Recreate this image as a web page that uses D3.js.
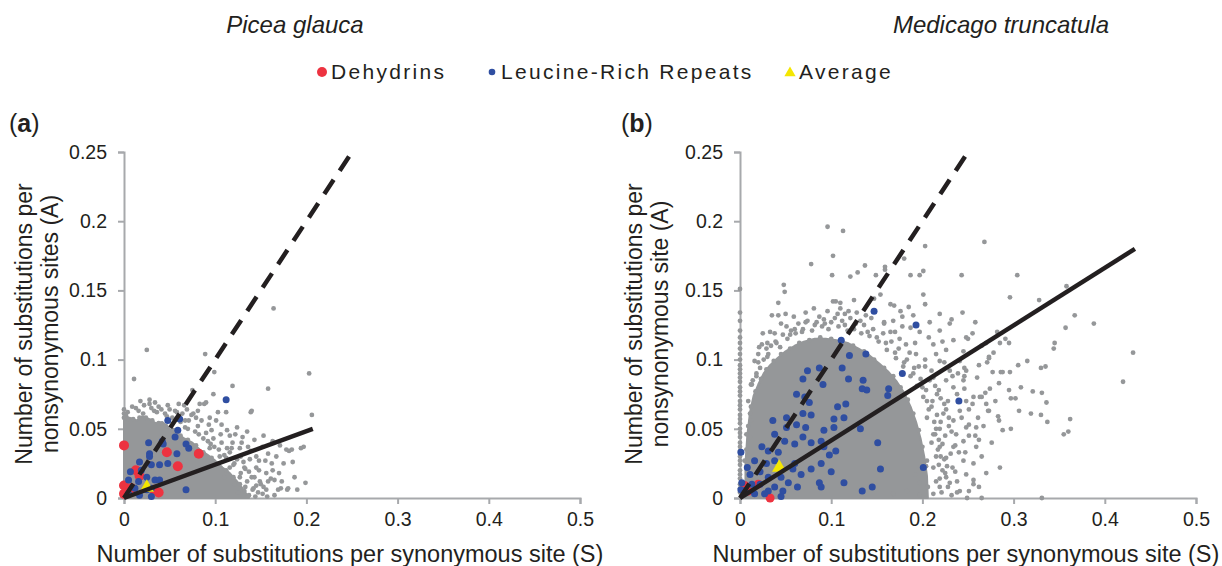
<!DOCTYPE html>
<meta charset="utf-8">
<style>body{margin:0;background:#fff}</style>
<script src="https://d3js.org/d3.v7.min.js"></script>
<div id="my_dataviz"></div>
<script>

// ---- values ----
var xTicks = [0, 0.1, 0.2, 0.3, 0.4, 0.5];
var yTicks = [0, 0.05, 0.1, 0.15, 0.2, 0.25];
var legendKeys = ["Dehydrins", "Leucine-Rich Repeats", "Average"];
var neutralLine = [[0, 0], [0.25, 0.25]];   // A = S

// (a) Picea glauca
// outline of the solid grey cloud
var coreA = [[0,0],[0,0.056],[0.006,0.058],[0.014,0.056],[0.02,0.059],[0.028,0.057],[0.035,0.054],[0.042,0.055],[0.05,0.05],
  [0.058,0.047],[0.066,0.043],[0.075,0.04],[0.083,0.035],[0.092,0.031],[0.1,0.027],[0.108,0.022],[0.116,0.018],[0.124,0.012],
  [0.13,0.007],[0.134,0.003],[0.137,0]];
var grayA = [[0.025,0.107],[0.011,0.086],[0.089,0.104],[0.099,0.091],[0.203,0.090],[0.164,0.137],[0.158,0.079],[0.119,0.081],
  [0.075,0.078],[0.098,0.075],[0.139,0.062],[0.206,0.060],[0.112,0.062],[0.083,0.068],[0.090,0.069],[0.067,0.056],[0.028,0.071],
  [0.013,0.065],[0.021,0.061],[0.038,0.066],[0.048,0.067],[0.060,0.068],[0.076,0.061],[0.101,0.056],[0.122,0.046],[0.130,0.044],
  [0.143,0.042],[0.152,0.037],[0.178,0.035],[0.184,0.035],[0.194,0.036],[0.197,0.037],[0.185,0.026],[0.199,0.011],[0.165,0.013],
  [0.172,0.007],[0.179,0.006],[0.165,0.002],[0.141,0.006],[0.152,0.003],[0.116,0.022],[0.127,0.015],[0.156,0.018],[0.145,0.022],
  [0.167,0.030],[0.163,0.020],[0.028,0.068],[0.066,0.067],[0.088,0.068],[0.140,0.063],[0.181,0.034],[0.148,0.020],[0.161,0.014],
  [0.180,0.007],[0.169,0.006],[0.121,0.010],[0.116,0.045],[0.129,0.040],[0.136,0.037],[0.119,0.040],[0.107,0.053],[0.096,0.049],
  [0.085,0.056],[0.074,0.060],[0.099,0.037],[0.110,0.031],[0.121,0.025],[0.132,0.022],[0.143,0.015],[0.150,0.010],[0.156,0.006],
  [0.110,0.015],[0.133,0.008],[0.128,0.030],[0.113,0.036],[0.092,0.041],[0.105,0.030],[0.138,0.028],[0.125,0.004],[0.145,0.030],
  [0.155,0.027],[0.058,0.062],[0.045,0.061],[0.033,0.063],[0.07,0.05],[0.082,0.046],[0.094,0.036],
  [0.004,0.062],[0.009,0.066],[0.016,0.063],[0.022,0.067],[0.03,0.065],[0.036,0.062],[0.041,0.064],[0.047,0.059],[0.053,0.058],
  [0.056,0.063],[0.062,0.055],[0.067,0.051],[0.071,0.056],[0.078,0.048],[0.081,0.052],[0.087,0.043],[0.09,0.047],[0.095,0.039],
  [0.098,0.043],[0.104,0.035],[0.107,0.04],[0.112,0.029],[0.116,0.033],[0.12,0.024],[0.124,0.028],[0.128,0.018],[0.133,0.021],
  [0.135,0.012],[0.14,0.015],[0.142,0.007],[0.147,0.004],[0.144,0.001],[0.118,0.036],[0.106,0.046],[0.093,0.053],[0.079,0.058],
  [0.064,0.061],[0.05,0.064],[0.034,0.069],[0.018,0.07],[0.131,0.026],[0.137,0.019],[0.149,0.012],[0.153,0.008],
  [0.003,0.058],[0.01,0.057],[0.017,0.058],[0.024,0.058],[0.031,0.056],[0.038,0.054],[0.046,0.052],[0.054,0.049],[0.062,0.045],
  [0.07,0.042],[0.079,0.038],[0.087,0.033],[0.096,0.029],[0.104,0.025],[0.112,0.02],[0.12,0.015],[0.127,0.01],[0.132,0.005],
  [0.136,0.001],[0.145,0.009],[0.158,0.012],[0.162,0.025],[0.17,0.018],[0.175,0.025],[0.187,0.015],[0.19,0.006],[0.173,0.012],
  [0.158,0.032],[0.148,0.027],[0.139,0.034],[0.127,0.036],[0.171,0.038],[0.163,0.041],[0.153,0.045],[0.135,0.048],[0.124,0.051],
  [0.113,0.049],[0.103,0.062],[0.094,0.058],[0.081,0.063],[0.069,0.064],[0.137,0.002],[0.157,0.001],
  [0,0.064],[0,0.058],[0,0.061],[0.002,0.06],[0.004,0.057]];
var dehydrinsA = [[0,0.038],[0.082,0.032],[0.059,0.023],[0.047,0.033],[0,0.009],[0,0.003],[0.013,0.020],[0.017,0.016],
  [0.038,0.004],[0.008,0.007],[0.033,0.006]];
var lrrA = [[0.112,0.071],[0.048,0.056],[0.061,0.057],[0.059,0.049],[0.056,0.044],[0.042,0.041],[0.027,0.040],[0.071,0.036],
  [0.043,0.039],[0.058,0.032],[0.048,0.025],[0.068,0.039],[0.068,0.006],[0.028,0.032],[0.017,0.026],[0.007,0.019],[0.019,0.020],
  [0.030,0.024],[0.039,0.024],[0.005,0.013],[0.016,0.012],[0.025,0.015],[0.034,0.013],[0.039,0.013],[0.012,0.007],[0.025,0.006],
  [0.030,0.007],[0.005,0.003],[0.017,0.002],[0.028,0.030],[0.03,0.001]];
var averageA = [[0.025, 0.0075]];
var fitA = [[0, 0], [0.207, 0.05]];

// (b) Medicago truncatula
var coreB = [[0.006,0],[0.006,0.025],[0.008,0.045],[0.011,0.062],[0.015,0.074],[0.02,0.082],[0.026,0.09],[0.033,0.096],
  [0.041,0.101],[0.05,0.106],[0.06,0.11],[0.07,0.113],[0.082,0.115],[0.094,0.115],[0.106,0.114],[0.118,0.112],[0.13,0.108],
  [0.142,0.103],[0.153,0.097],[0.163,0.091],[0.172,0.084],[0.18,0.076],[0.187,0.066],[0.193,0.055],[0.198,0.043],[0.202,0.03],
  [0.205,0.016],[0.206,0]];
var grayB = [[0.096,0.196],[0.113,0.193],[0.102,0.175],[0.078,0.169],[0.203,0.182],[0.268,0.185],[0.180,0.173],[0.201,0.164],
  [0.159,0.165],[0.137,0.168],[0.101,0.161],[0.048,0.154],[0.049,0.149],[0.042,0.141],
  [0.243,0.161],[0.304,0.161],[0.296,0.145],[0.328,0.143],[0.358,0.153],[0.244,0.134],[0.258,0.127],[0.367,0.132],[0.388,0.126],
  [0.357,0.123],[0.255,0.119],[0.282,0.120],[0.291,0.115],[0.285,0.112],[0.295,0.112],[0.273,0.102],[0.271,0.098],[0.262,0.096],
  [0.305,0.096],[0.315,0.099],[0.345,0.112],[0.344,0.108],[0.330,0.094],[0.335,0.095],[0.431,0.105],[0.420,0.084],[0.288,0.091],
  [0.296,0.091],[0.295,0.078],[0.308,0.080],[0.302,0.072],[0.321,0.077],[0.331,0.076],[0.336,0.069],[0.306,0.063],[0.319,0.061],
  [0.330,0.060],[0.337,0.055],[0.362,0.057],[0.355,0.046],[0.360,0.048],[0.297,0.050],[0.288,0.049],[0.283,0.059],[0.284,0.056],
  [0.273,0.063],[0.274,0.079],[0.269,0.076],[0.263,0.073],[0.256,0.073],[0.285,0.022],[0.331,0],[0.265,0],[0.249,0],[0.251,0.005],
  [0.256,0.010],[0.256,0.013],[0.259,0.037],[0.247,0.033],[0.256,0.025],[0.251,0.045],[0.258,0.045],[0.250,0.115],[0.245,0.106],
  [0.246,0.094],[0.246,0.088],[0.246,0.079],[0.265,0.073],[0.255,0.068],[0.270,0.068],[0.261,0.058],[0.251,0.053],[0.259,0.051],
  [0.272,0.063],
  [0.121,0.160],[0.129,0.163],[0.149,0.161],[0.159,0.167],[0.187,0.161],[0.197,0.161],[0.102,0.142],[0.110,0.141],[0.119,0.135],
  [0.147,0.144],[0.154,0.147],[0.165,0.140],[0.176,0.135],[0.185,0.138],[0.201,0.147],[0.203,0.140],[0.219,0.133],[0.232,0.129],
  [0.208,0.127],[0.190,0.132],[0.042,0.132],[0.045,0.126],[0.033,0.120],[0.024,0.111],[0.029,0.108],[0.016,0.099],[0.012,0.082],
  [0.009,0.070],[0.011,0.061],[0.007,0.046],[0.005,0.027],[0.072,0.127],[0.082,0.125],[0.092,0.129],[0.107,0.133],[0.132,0.128],
  [0.158,0.126],[0.219,0.121],[0.234,0.114],[0.248,0.116],[0.226,0.107],[0.241,0.099],[0.248,0.092],[0.230,0.092],[0.219,0.099],
  [0.212,0.111],[0.245,0.085],[0.234,0.080],[0.248,0.070],[0.241,0.063],[0.234,0.056],[0.248,0.051],[0.245,0.041],[0.234,0.037],
  [0.226,0.029],[0.245,0.027],[0.248,0.017],[0.226,0.015],[0.219,0.008],[0.241,0.005],[0.212,0.003],[0.197,0.002],[0.183,0.005],
  [0.168,0.003],[0.212,0.022],[0.219,0.037],[0.212,0.046],[0.223,0.061],[0.216,0.075],[0.208,0.085],[0.205,0.058],[0.205,0.027],
  [0.192,0.017],[0.197,0.011],
  [0.035,0.132],[0.050,0.133],[0.025,0.119],[0.021,0.109],[0.014,0.085],[0.012,0.056],[0.011,0.044],[0.105,0.142],[0.115,0.133],
  [0.125,0.143],[0.169,0.139],[0.230,0.126],[0.270,0.112],[0.273,0.101],[0.277,0.091],[0.284,0.083],[0.286,0.091],[0.297,0.072],
  [0.06,0.122],[0.068,0.12],[0.09,0.124],[0.1,0.127],[0.115,0.125],[0.125,0.122],[0.14,0.12],[0.15,0.116],[0.16,0.112],[0.17,0.105],
  [0.18,0.098],[0.19,0.09],[0.2,0.08],[0.205,0.07],[0.21,0.066],[0.215,0.05],[0.218,0.042],[0.22,0.03],[0.222,0.02],[0.215,0.012],
  [0.205,0.008],[0.04,0.112],[0.03,0.102],[0.022,0.094],[0.018,0.088],[0.186,0.105],[0.196,0.095],[0.175,0.115],[0.165,0.12],
  [0.225,0.045],[0.228,0.07],[0.226,0.085],[0.203,0.1],[0.192,0.112],[0.178,0.124],[0.138,0.132],[0.055,0.118],
  [0.013,0.082],[0.018,0.09],[0.02,0.098],[0.026,0.1],[0.031,0.104],[0.034,0.11],[0.039,0.113],[0.044,0.109],[0.047,0.118],
  [0.052,0.115],[0.056,0.121],[0.061,0.119],[0.064,0.126],[0.069,0.122],[0.074,0.128],[0.079,0.121],[0.084,0.127],[0.087,0.131],
  [0.093,0.126],[0.097,0.122],[0.104,0.13],[0.108,0.124],[0.112,0.128],[0.118,0.121],[0.121,0.13],[0.127,0.126],[0.133,0.119],
  [0.136,0.125],[0.142,0.117],[0.146,0.122],[0.152,0.113],[0.157,0.119],[0.161,0.107],[0.166,0.113],[0.171,0.101],[0.174,0.108],
  [0.179,0.095],[0.183,0.1],[0.187,0.088],[0.191,0.094],[0.194,0.081],[0.198,0.086],[0.201,0.073],[0.204,0.078],[0.207,0.064],
  [0.211,0.07],[0.213,0.055],[0.216,0.06],[0.214,0.046],[0.219,0.05],[0.217,0.035],[0.222,0.039],[0.218,0.024],[0.224,0.028],
  [0.219,0.014],[0.225,0.018],[0.221,0.004],[0.228,0.008],
  [0.02,0.104],[0.03,0.112],[0.038,0.119],[0.051,0.124],[0.059,0.131],[0.072,0.134],[0.081,0.137],[0.096,0.135],[0.11,0.137],
  [0.128,0.134],[0.144,0.13],[0.158,0.127],[0.17,0.12],[0.182,0.111],[0.193,0.104],[0.203,0.095],[0.212,0.087],[0.218,0.078],
  [0.224,0.068],[0.229,0.058],[0.232,0.048],[0.236,0.038],[0.233,0.022],[0.238,0.012],[0.232,0.002],
  [0.007,0.035],[0.009,0.052],[0.012,0.066],[0.017,0.077],[0.023,0.086],[0.029,0.093],[0.037,0.099],[0.045,0.104],[0.055,0.108],
  [0.065,0.112],[0.076,0.114],[0.088,0.116],[0.1,0.115],[0.112,0.113],[0.124,0.11],[0.136,0.106],[0.147,0.1],[0.158,0.094],
  [0.168,0.088],[0.176,0.08],[0.184,0.071],[0.19,0.061],[0.196,0.049],[0.2,0.037],[0.204,0.023],[0.206,0.008],
  [0.21,0.092],[0.214,0.081],[0.22,0.072],[0.226,0.064],[0.229,0.052],[0.237,0.046],[0.24,0.033],[0.231,0.032],[0.227,0.023],
  [0.236,0.019],[0.23,0.011],[0.238,0.004],[0.243,0.058],[0.238,0.075],[0.233,0.088],[0.224,0.098],[0.215,0.104],[0.207,0.116],
  [0.197,0.12],[0.187,0.123],[0.178,0.131],[0.168,0.128],[0.22,0.055],[0.215,0.03],[0.21,0.04],[0.239,0.09],[0.222,0.113],
  [0.251,0.064],[0.262,0.042],[0.267,0.052],[0.265,0.03],[0.27,0.018],[0.262,0.008],[0.276,0.04],[0.28,0.07],[0.278,0.105],
  [0.26,0.087],[0.265,0.11],
  [0,0.151],[0,0.134],[0,0.128],[0,0.121],[0,0.116],[0,0.112],[0,0.108],[0,0.104],[0,0.1],[0,0.096],[0,0.093],[0,0.09],[0,0.087],
  [0,0.084],[0,0.08],[0,0.077],[0,0.074],[0,0.07],[0,0.067],[0,0.064],[0,0.06],[0,0.057],[0,0.054],[0,0.05],[0,0.047],[0,0.044],
  [0,0.04],[0,0.037],[0,0.034],[0,0.03],[0,0.027],[0,0.024],[0,0.02],[0,0.017],[0,0.014],[0,0.01],[0,0.007],[0,0.004]];
var dehydrinsB = [[0.009,0.005],[0.020,0.010],[0.033,0.0],[0.005,0.009]];
var lrrB = [[0.147,0.135],[0.193,0.125],[0.178,0.090],[0.240,0.070],[0.201,0.022],[0.154,0.021],[0.134,0.005],[0.145,0.008],
  [0.111,0.114],[0.120,0.103],[0.138,0.104],[0.112,0.094],[0.119,0.086],[0.135,0.085],[0.139,0.078],[0.134,0.079],[0.163,0.079],
  [0.162,0.074],[0.087,0.094],[0.074,0.092],[0.069,0.086],[0.091,0.082],[0.062,0.075],[0.071,0.073],[0.076,0.069],[0.078,0.060],
  [0.069,0.061],[0.103,0.057],[0.107,0.066],[0.116,0.068],[0.114,0.058],[0.103,0.051],[0.092,0.049],[0.089,0.041],[0.072,0.051],
  [0.062,0.053],[0.051,0.051],[0.036,0.056],[0.051,0.058],[0.038,0.046],[0.049,0.041],[0.060,0.039],[0.069,0.044],[0.078,0.040],
  [0.092,0.037],[0.105,0.034],[0.098,0.031],[0.132,0.050],[0.151,0.040],[0.100,0.019],[0.089,0.025],[0.078,0.021],[0.114,0.011],
  [0.087,0.011],[0.089,0.008],[0.063,0.008],[0.058,0.021],[0.067,0.017],[0.053,0.011],[0.047,0.005],[0.001,0.033],[0.016,0.027],
  [0.029,0.025],[0.024,0.037],[0.031,0.034],[0.042,0.033],[0.038,0.027],[0.031,0.015],[0.022,0.019],[0.011,0.017],[0.002,0.011],
  [0.005,0.005],[0.016,0.003],[0.031,0.005],[0.038,0.008],[0.045,0.015],[0.060,0.025],[0.027,0.003],[0.013,0.010],[0.022,0.010],
  [0.001,0.006],[0.008,0.022],[0.045,0.001]];
var averageB = [[0.043, 0.022]];
var fitB = [[0, 0], [0.433, 0.18]];

// ---- layout ----
var W = 1222, H = 566;
var svg = d3.select("#my_dataviz")
  .append("svg")
    .attr("width", W)
    .attr("height", H)
    .style("font-family", "'Liberation Sans', Arial, sans-serif");

var ink = "#231f20", grey = "#959799", axisGrey = "#a7a9ac";

function drawPanel(p) {
  var x = d3.scaleLinear().domain([0, 0.5]).range([p.left, p.left + 456]);
  var y = d3.scaleLinear().domain([0, 0.25]).range([498, 152]);

  // axes
  var gx = svg.append("g")
    .attr("transform", "translate(0,498)")
    .call(d3.axisBottom(x).tickValues(xTicks).tickFormat(String).tickSizeOuter(0).tickSize(6).tickPadding(8));
  var gy = svg.append("g")
    .attr("transform", "translate(" + p.left + ",0)")
    .call(d3.axisLeft(y).tickValues(yTicks).tickFormat(String).tickSizeOuter(0).tickSize(6).tickPadding(11));
  [gx, gy].forEach(function(g) {
    g.attr("font-size", 19.5).attr("font-family", null);
    g.select(".domain").attr("stroke", axisGrey).attr("stroke-width", 2);
    g.selectAll(".tick line").attr("stroke", axisGrey).attr("stroke-width", 2);
    g.selectAll(".tick text").attr("fill", ink);
  });

  // solid core of the cloud
  svg.append("path")
    .datum(p.core)
    .attr("d", d3.line().x(function(d){ return x(d[0]); }).y(function(d){ return y(d[1]); }).curve(d3.curveLinearClosed))
    .attr("fill", grey)
    .attr("stroke", grey)
    .attr("stroke-width", 2)
    .attr("stroke-linejoin", "round");

  svg.selectAll(null)
    .data(p.gray)
    .enter()
    .append("circle")
      .attr("cx", function(d){ return x(d[0]); })
      .attr("cy", function(d){ return y(d[1]); })
      .attr("r", 2.4)
      .attr("fill", grey);

  svg.selectAll(null)
    .data(p.dehydrins)
    .enter()
    .append("circle")
      .attr("cx", function(d){ return x(d[0]); })
      .attr("cy", function(d){ return y(d[1]); })
      .attr("r", p.redR)
      .attr("fill", "#ed3340");

  svg.selectAll(null)
    .data(p.lrr)
    .enter()
    .append("circle")
      .attr("cx", function(d){ return x(d[0]); })
      .attr("cy", function(d){ return y(d[1]); })
      .attr("r", 3.5)
      .attr("fill", "#2f4ea1");

  svg.selectAll(null)
    .data(p.average)
    .enter()
    .append("path")
      .attr("d", d3.symbol().type(d3.symbolTriangle).size(90))
      .attr("transform", function(d){ return "translate(" + x(d[0]) + "," + y(d[1]) + ")"; })
      .attr("fill", "#f4e600");

  var line = d3.line().x(function(d){ return x(d[0]); }).y(function(d){ return y(d[1]); });
  svg.append("path")
    .datum(neutralLine)
    .attr("d", line)
    .attr("fill", "none")
    .attr("stroke", ink)
    .attr("stroke-width", 4.5)
    .attr("stroke-dasharray", "17,11");
  svg.append("path")
    .datum(p.fit)
    .attr("d", line)
    .attr("fill", "none")
    .attr("stroke", ink)
    .attr("stroke-width", 4.5);

  // labels
  svg.append("text")
    .attr("x", p.titleX).attr("y", 33)
    .attr("text-anchor", "middle")
    .style("font-size", "24px").style("font-style", "italic")
    .attr("fill", ink)
    .text(p.title);

  var tag = svg.append("text")
    .attr("x", p.tagX).attr("y", 132)
    .style("font-size", "25px")
    .attr("fill", ink);
  tag.append("tspan").text("(");
  tag.append("tspan").style("font-weight", "bold").text(p.tag);
  tag.append("tspan").text(")");

  svg.append("text")
    .attr("x", p.left + 226).attr("y", 562)
    .attr("text-anchor", "middle")
    .style("font-size", "23.5px")
    .attr("fill", ink)
    .text("Number of substitutions per synonymous site (S)");

  p.yLabel.forEach(function(t, i) {
    svg.append("text")
      .attr("transform", "translate(" + (p.labelX + i * 26) + ",324) rotate(-90)")
      .attr("text-anchor", "middle")
      .style("font-size", "23px")
      .attr("fill", ink)
      .text(t);
  });
}

drawPanel({left: 124, core: coreA, gray: grayA, dehydrins: dehydrinsA, lrr: lrrA, average: averageA, fit: fitA,
  redR: 5, title: "Picea glauca", titleX: 295, tag: "a", tagX: 9, labelX: 32,
  yLabel: ["Number of substitutions per", "nonsynonymous sites (A)"]});
drawPanel({left: 740, core: coreB, gray: grayB, dehydrins: dehydrinsB, lrr: lrrB, average: averageB, fit: fitB,
  redR: 4.5, title: "Medicago truncatula", titleX: 1001, tag: "b", tagX: 621, labelX: 642,
  yLabel: ["Number of substitutions per", "nonsynonymous site (A)"]});

// legend
var legX = [322, 492, 790];
var legend = svg.append("g");
legend.append("circle").attr("cx", legX[0]).attr("cy", 72).attr("r", 5).attr("fill", "#ed3340");
legend.append("circle").attr("cx", legX[1]).attr("cy", 72).attr("r", 3.3).attr("fill", "#2f4ea1");
legend.append("path")
  .attr("d", d3.symbol().type(d3.symbolTriangle).size(55))
  .attr("transform", "translate(" + legX[2] + ",73)")
  .attr("fill", "#f4e600");
legend.selectAll("mylabels")
  .data(legendKeys)
  .enter()
  .append("text")
    .attr("x", function(d, i){ return legX[i] + 9; })
    .attr("y", 79)
    .style("font-size", "21px")
    .style("letter-spacing", "2.3px")
    .attr("fill", ink)
    .text(function(d){ return d; });

</script>
